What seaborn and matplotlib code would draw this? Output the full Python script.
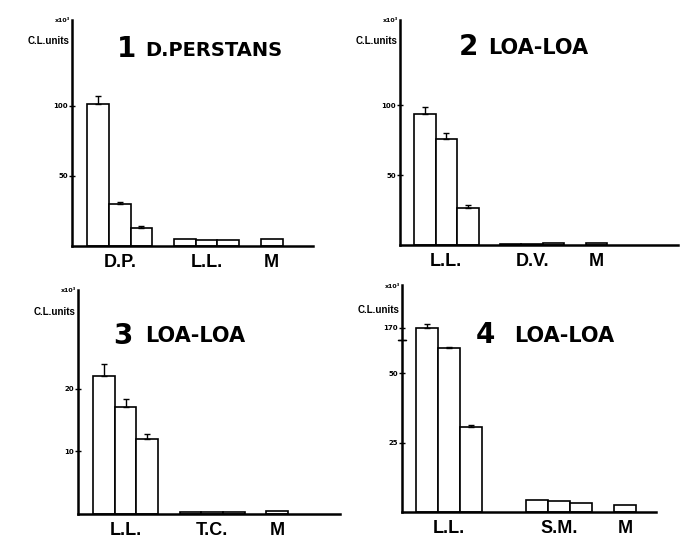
import numpy as np
import seaborn as sns
import matplotlib.pyplot as plt

# bar positions (gaps between groups), values and upper error bars
pos_a = [0, 1, 2, 4, 5, 6, 8]
pos_b = [0, 1, 2, 5, 6, 7, 9]

dp_vals = [101, 30, 13, 4.8, 4.3, 4.3, 4.8]
dp_err = [5.6, 1.6, 1.5, 0, 0, 0, 0]
loa2_vals = [94, 75.5, 26.2, 1.0, 1.0, 1.5, 1.5]
loa2_err = [4.8, 4.3, 2.4, 0, 0, 0, 0]
loa3_vals = [22.0, 17.1, 12.0, 0.3, 0.3, 0.3, 0.4]
loa3_err = [1.9, 1.3, 0.8, 0, 0, 0, 0]
loa4_vals = [170, 59.0, 30.6, 4.2, 3.8, 3.2, 2.6]
loa4_err = [40, 0.6, 0.6, 0, 0, 0, 0]

group_pos_a = [1, 5, 8]
group_pos_b = [1, 6, 9]
labels1 = ['D.P.', 'L.L.', 'M']
labels2 = ['L.L.', 'D.V.', 'M']
labels3 = ['L.L.', 'T.C.', 'M']
labels4 = ['L.L.', 'S.M.', 'M']

W, H = 682, 539

sns.set_style('ticks')
plt.rcParams['font.family'] = ['DejaVu Sans']
for key in ('axes.edgecolor', 'text.color', 'xtick.color', 'ytick.color',
            'axes.labelcolor'):
    plt.rcParams[key] = 'black'

fig = plt.figure(figsize=(W / 100, H / 100), dpi=100)


def box(x0, y_top, x1, y_base):
    return [x0 / W, 1 - y_base / H, (x1 - x0) / W, (y_base - y_top) / H]


def fx(x, y):
    return x / W, 1 - y / H


# broken y scale for panel 4 (values above 62 compressed)
BRK, K = 62.0, 0.0398


def fwd(y):
    y = np.asarray(y, dtype=float)
    return np.where(y <= BRK, y, BRK + (y - BRK) * K)


def inv(d):
    d = np.asarray(d, dtype=float)
    return np.where(d <= BRK, d, BRK + (d - BRK) / K)


panels = [
    dict(rect=box(72, 20, 313, 246), pos=pos_a, vals=dp_vals, err=dp_err,
         xlim=(-1.2, 9.9), ylim=(0, 161), yt=[50, 100], ytl=['50', '100'],
         gpos=group_pos_a, glab=labels1),
    dict(rect=box(400, 20, 678, 245), pos=pos_a, vals=loa2_vals, err=loa2_err,
         xlim=(-1.16, 11.8), ylim=(0, 161), yt=[50, 100], ytl=['50', '100'],
         gpos=group_pos_a, glab=labels2),
    dict(rect=box(78, 290, 340, 514), pos=pos_a, vals=loa3_vals, err=loa3_err,
         xlim=(-1.2, 10.9), ylim=(0, 35.7), yt=[10, 20], ytl=['10', '20'],
         gpos=group_pos_a, glab=labels3),
    dict(rect=box(402, 285, 656, 512), pos=pos_b, vals=loa4_vals, err=loa4_err,
         xlim=(-1.14, 10.4), ylim=(0, 559), yt=[25, 50, 170], ytl=['25', '50', '170'],
         gpos=group_pos_b, glab=labels4, broken=True),
]

axes = []
for p in panels:
    ax = fig.add_axes(p['rect'])
    sns.barplot(x=p['pos'], y=p['vals'], native_scale=True, width=1.0,
                color='white', edgecolor='black', linewidth=1.2,
                errorbar=None, ax=ax)
    errs = np.array(p['err'])
    m = errs > 0
    ax.errorbar(np.array(p['pos'])[m], np.array(p['vals'])[m],
                yerr=[np.zeros(m.sum()), errs[m]], fmt='none',
                ecolor='black', elinewidth=1.0, capsize=2, capthick=1.0)
    if p.get('broken'):
        ax.set_yscale('function', functions=(fwd, inv))
    ax.set_xlim(*p['xlim'])
    ax.set_ylim(*p['ylim'])
    ax.set_yticks(p['yt'])
    ax.set_yticklabels(p['ytl'], fontsize=5, fontweight='bold')
    ax.set_xticks(p['gpos'])
    ax.set_xticklabels(p['glab'], fontsize=13, fontweight='bold',
                       family='Liberation Sans')
    ax.tick_params(axis='x', length=0, pad=6)
    ax.tick_params(axis='y', direction='inout', length=4, width=1, pad=1)
    ax.set_xlabel('')
    ax.set_ylabel('')
    sns.despine(ax=ax)
    for s in ('left', 'bottom'):
        ax.spines[s].set_linewidth(1.8)
    axes.append(ax)

# break marks on panel 4 axis
ax4 = axes[3]
for dy in (0.5, 2.0):
    ax4.plot([-1.14 - 0.2, -1.14 + 0.2], [BRK + dy, BRK + dy],
             color='black', lw=1.0, clip_on=False)

# titles
titles = [
    ('1', 117, 57, 'D.PERSTANS', 145, 56, 14),
    ('2', 459, 55, 'LOA-LOA', 488, 54, 15),
    ('3', 113, 344, 'LOA-LOA', 145, 342, 15),
    ('4', 476, 343, 'LOA-LOA', 514, 342, 15),
]
for num, nx, ny, name, tx, ty, fs in titles:
    fig.text(*fx(nx, ny), num, fontsize=20, fontweight='bold', va='baseline')
    fig.text(*fx(tx, ty), name, fontsize=fs, fontweight='bold', va='baseline')

# axis unit labels
units = [(70, 41, 70, 20), (398, 41, 398, 20), (76, 312, 76, 290), (400, 310, 400, 287)]
for ux, uy, sx, sy in units:
    fig.text(*fx(ux, uy), 'C.L.units', fontsize=7, fontweight='bold',
             family='Liberation Sans', ha='right', va='center')
    fig.text(*fx(sx, sy), 'x10³', fontsize=4.5, fontweight='bold',
             ha='right', va='center')

fig.savefig('out.png', dpi=100)
